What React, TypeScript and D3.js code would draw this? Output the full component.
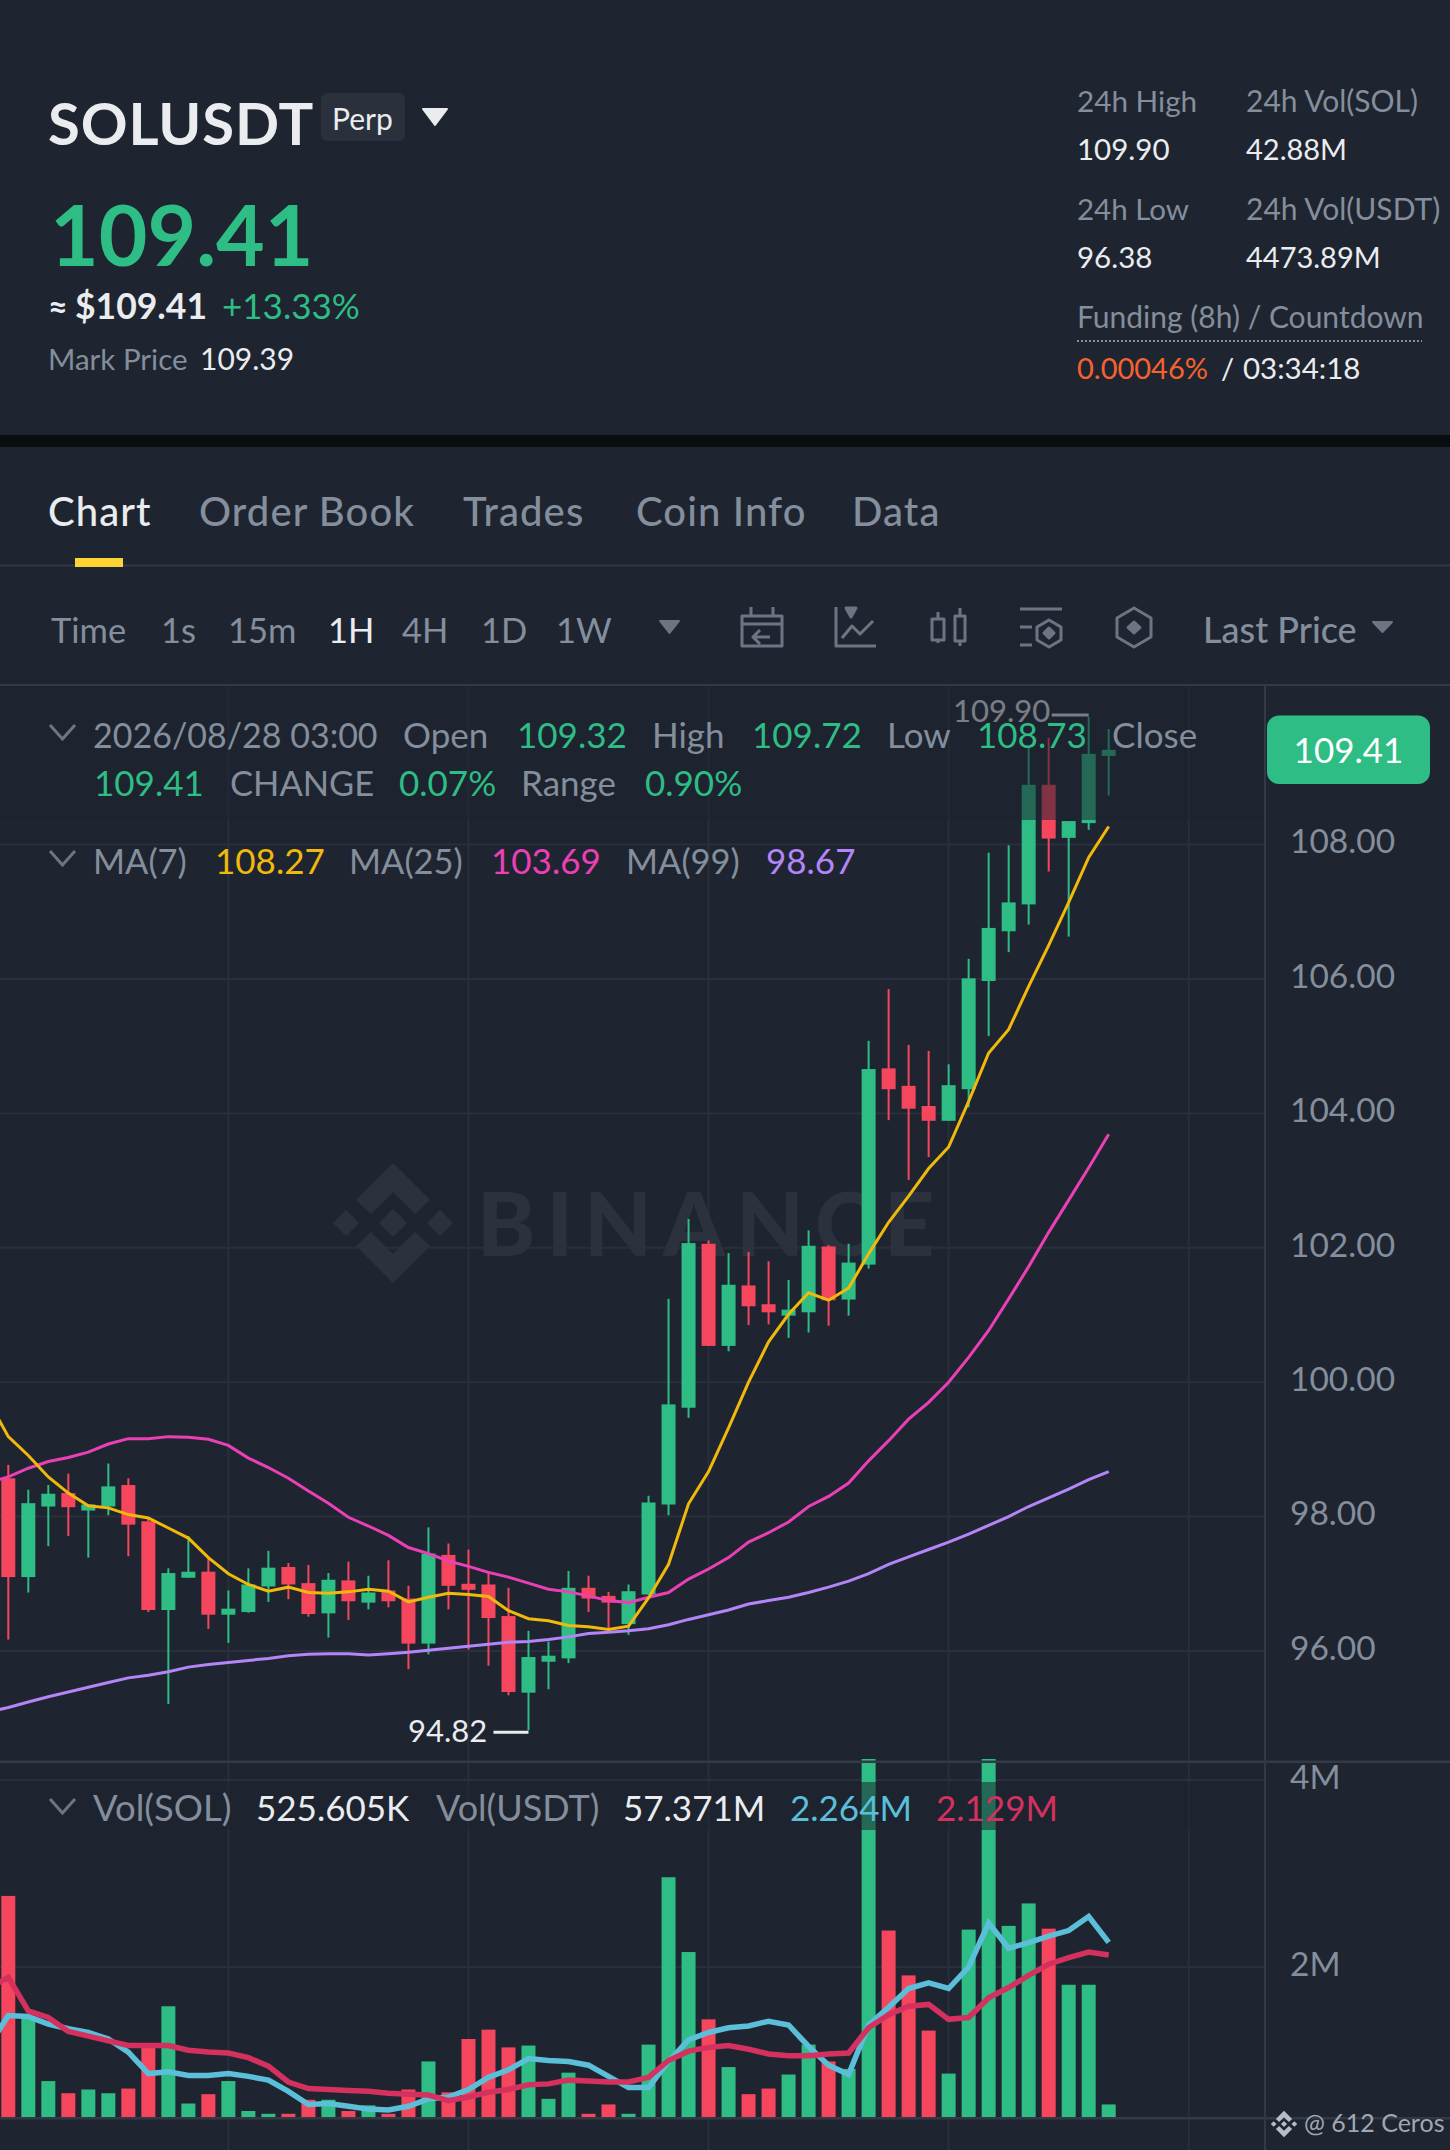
import React, { useRef, useEffect } from 'react';
import * as d3 from 'd3';

const WIDTH = 1450;
const HEIGHT = 2150;
const FONT = 'Lato, sans-serif';
const BG = '#1e2530';
const GREEN = '#2ebd85';
const RED = '#f6465d';
const GREY = '#848e9c';
const WHITE = '#eaecef';
const GRID = '#2a303b';
const RULE = '#333a46';
const ICON = '#6d7585';

// hourly candles, left to right
const opens = [
  98.57, 97.1, 98.15, 98.35, 98.09, 98.15, 98.47, 97.93, 96.61, 97.09, 97.18, 96.54, 96.58, 96.96,
  97.25, 97.01, 96.56, 97.05, 96.72, 96.9, 96.78, 96.11, 97.43, 97.0, 96.99, 96.52, 95.38, 95.84,
  95.89, 96.94, 96.82, 96.4, 96.84, 98.18, 99.62, 102.06, 100.54, 101.44, 101.16, 100.99, 101.04,
  102.02, 101.23, 101.75, 104.67, 104.41, 104.11, 103.89, 104.36, 105.97, 106.71, 107.11, 108.89,
  108.1, 108.32, 109.32,
];
const closes = [
  97.1, 98.2, 98.34, 98.14, 98.18, 98.45, 97.88, 96.61, 97.16, 97.18, 96.54, 96.63, 96.99, 97.24,
  96.99, 96.55, 97.06, 96.74, 96.87, 96.74, 96.11, 97.45, 96.97, 96.91, 96.49, 95.39, 95.91, 95.93,
  96.94, 96.78, 96.72, 96.89, 98.21, 99.67, 102.07, 100.54, 101.45, 101.13, 101.04, 101.08, 102.03,
  101.22, 101.78, 104.66, 104.36, 104.07, 103.89, 104.42, 106.01, 106.76, 107.14, 108.89, 108.09,
  108.35, 109.35, 109.41,
];
const highs = [
  98.77, 98.4, 98.47, 98.64, 98.18, 98.79, 98.57, 97.98, 97.23, 97.71, 97.38, 96.9, 97.23, 97.49,
  97.31, 97.28, 97.16, 97.33, 97.12, 97.35, 96.97, 97.84, 97.6, 97.51, 97.18, 96.94, 96.3, 96.14,
  97.19, 97.12, 96.88, 96.99, 98.31, 101.24, 102.43, 102.11, 101.92, 101.94, 101.8, 101.52, 102.26,
  102.04, 102.06, 105.08, 105.85, 105.02, 104.93, 104.73, 106.3, 107.88, 107.99, 109.45, 109.59,
  108.35, 109.9, 109.72,
];
const lows = [
  96.17, 96.87, 97.56, 97.71, 97.39, 98.02, 97.41, 96.58, 95.21, 97.09, 96.33, 96.12, 96.57, 96.73,
  96.77, 96.51, 96.2, 96.46, 96.62, 96.65, 95.73, 95.95, 96.62, 96.02, 95.78, 95.34, 94.82, 95.43,
  95.82, 96.58, 96.3, 96.24, 96.84, 98.02, 99.47, 100.54, 100.46, 100.85, 100.86, 100.66, 100.74,
  100.84, 100.99, 101.69, 103.9, 103.01, 103.35, 103.89, 104.09, 105.15, 106.4, 106.81, 107.6,
  106.63, 108.22, 108.73,
];

// volumes in millions of SOL
const volumes = [
  2.76, 1.45, 0.78, 0.65, 0.69, 0.65, 0.7, 1.15, 1.58, 0.54, 0.64, 0.78, 0.46, 0.43, 0.43, 0.58,
  0.58, 0.46, 0.52, 0.43, 0.69, 0.99, 0.66, 1.23, 1.33, 1.14, 1.16, 0.59, 0.87, 0.43, 0.53, 0.43,
  1.17, 2.96, 2.16, 1.44, 0.93, 0.64, 0.7, 0.85, 1.17, 0.99, 0.91, 4.6, 2.39, 1.91, 1.32, 0.86, 2.4,
  4.6, 2.44, 2.68, 2.41, 1.81, 1.81, 0.53,
];

// the average lines start one candle before the left edge
const ma7 = [
  99.73, 99.19, 98.91, 98.59, 98.35, 98.16, 98.13, 98.03, 97.98, 97.83, 97.68, 97.39, 97.15, 96.99,
  96.89, 96.95, 96.87, 96.86, 96.88, 96.92, 96.89, 96.73, 96.8, 96.86, 96.84, 96.81, 96.6, 96.48,
  96.45, 96.38, 96.36, 96.32, 96.37, 96.79, 97.29, 98.19, 98.67, 99.32, 100.0, 100.6, 101.01,
  101.33, 101.22, 101.4, 101.91, 102.38, 102.77, 103.18, 103.5, 104.18, 104.9, 105.25, 105.89,
  106.5, 107.14, 107.81, 108.27,
];
const ma25 = [
  98.51, 98.59, 98.72, 98.82, 98.88, 98.96, 99.08, 99.16, 99.16, 99.19, 99.18, 99.15, 99.06, 98.87,
  98.73, 98.57, 98.38, 98.2, 97.99, 97.86, 97.72, 97.54, 97.45, 97.34, 97.26, 97.17, 97.1, 97.01,
  96.92, 96.88, 96.82, 96.75, 96.72, 96.8, 96.87, 97.07, 97.22, 97.39, 97.62, 97.76, 97.92, 98.15,
  98.3, 98.5, 98.83, 99.13, 99.45, 99.7, 100.0, 100.37, 100.77, 101.24, 101.72, 102.23, 102.71,
  103.19, 103.69,
];
const ma99 = [
  95.09, 95.16, 95.24, 95.32, 95.39, 95.46, 95.53, 95.6, 95.64, 95.69, 95.76, 95.8, 95.83, 95.86,
  95.89, 95.93, 95.95, 95.96, 95.96, 95.94, 95.96, 95.98, 96.01, 96.04, 96.07, 96.1, 96.13, 96.14,
  96.17, 96.21, 96.26, 96.28, 96.3, 96.33, 96.39, 96.47, 96.54, 96.61, 96.7, 96.75, 96.8, 96.87,
  96.95, 97.04, 97.15, 97.29, 97.4, 97.51, 97.62, 97.74, 97.87, 98.0, 98.15, 98.28, 98.41, 98.55,
  98.67,
];
const volMa5 = [
  1.15, 1.48, 1.47, 1.39, 1.34, 1.3, 1.23, 1.09, 0.86, 0.88, 0.84, 0.84, 0.86, 0.83, 0.79, 0.67,
  0.53, 0.54, 0.51, 0.48, 0.47, 0.51, 0.59, 0.61, 0.69, 0.82, 0.9, 1.02, 1.0, 0.99, 0.95, 0.83,
  0.71, 0.71, 0.99, 1.22, 1.3, 1.35, 1.37, 1.42, 1.38, 1.15, 0.95, 0.85, 1.38, 1.57, 1.77, 1.83,
  1.77, 2.0, 2.47, 2.2, 2.26, 2.33, 2.39, 2.54, 2.264,
];
const volMa10 = [
  1.77, 1.89, 1.53, 1.46, 1.31, 1.26, 1.21, 1.16, 1.16, 1.16, 1.11, 1.09, 1.08, 1.03, 0.94, 0.77,
  0.7, 0.69, 0.68, 0.67, 0.65, 0.64, 0.63, 0.57, 0.61, 0.66, 0.69, 0.74, 0.75, 0.79, 0.78, 0.77,
  0.77, 0.82, 1.0, 1.1, 1.14, 1.16, 1.12, 1.07, 1.05, 1.05, 1.07, 1.08, 1.35, 1.49, 1.58, 1.6, 1.44,
  1.46, 1.67, 1.78, 1.91, 2.03, 2.1, 2.16, 2.129,
];

const priceTicks = [96, 98, 100, 102, 104, 106, 108];
const volumeTicks = [2, 4];
const timeTicks = [11, 23, 35, 47, 59];
const tabs = ['Chart', 'Order Book', 'Trades', 'Coin Info', 'Data'];
const tabX = [48, 199, 463, 636, 852];
const intervals = ['Time', '1s', '15m', '1H', '4H', '1D', '1W'];
const intervalX = [51, 161, 228, 328, 402, 481, 556];

type Piece = { x: number; y: number; t: string; c: string; size?: number; weight?: number };

const legendPieces: Piece[] = [
  { x: 93, y: 748, t: '2026/08/28 03:00', c: GREY, size: 34 },
  { x: 403, y: 748, t: 'Open', c: GREY },
  { x: 517, y: 748, t: '109.32', c: GREEN },
  { x: 652, y: 748, t: 'High', c: GREY },
  { x: 752, y: 748, t: '109.72', c: GREEN },
  { x: 887, y: 748, t: 'Low', c: GREY },
  { x: 977, y: 748, t: '108.73', c: GREEN },
  { x: 1112, y: 748, t: 'Close', c: GREY },
  { x: 94, y: 796, t: '109.41', c: GREEN },
  { x: 230, y: 796, t: 'CHANGE', c: GREY, size: 34.5 },
  { x: 399, y: 796, t: '0.07%', c: GREEN },
  { x: 521, y: 796, t: 'Range', c: GREY },
  { x: 645, y: 796, t: '0.90%', c: GREEN },
  { x: 93, y: 874, t: 'MA(7)', c: GREY, size: 34.5 },
  { x: 215, y: 874, t: '108.27', c: '#f0b90b' },
  { x: 349, y: 874, t: 'MA(25)', c: GREY, size: 34.5 },
  { x: 491, y: 874, t: '103.69', c: '#eb40b5' },
  { x: 626, y: 874, t: 'MA(99)', c: GREY, size: 34.5 },
  { x: 766, y: 874, t: '98.67', c: '#b385f8' },
  { x: 93, y: 1821, t: 'Vol(SOL)', c: GREY, size: 36.5 },
  { x: 256, y: 1821, t: '525.605K', c: WHITE },
  { x: 436, y: 1821, t: 'Vol(USDT)', c: GREY, size: 36 },
  { x: 623, y: 1821, t: '57.371M', c: WHITE },
  { x: 790, y: 1821, t: '2.264M', c: '#5bbfd9' },
  { x: 936, y: 1821, t: '2.129M', c: '#d5315f' },
];

const headerPieces: Piece[] = [
  { x: 332, y: 130, t: 'Perp', c: WHITE, size: 30, weight: 400 },
  { x: 50, y: 266, t: '109.41', c: GREEN, size: 84, weight: 700 },
  { x: 48, y: 319, t: '≈', c: WHITE, size: 34, weight: 700 },
  { x: 75, y: 319, t: '$109.41', c: WHITE, size: 35.5, weight: 700 },
  { x: 222, y: 319, t: '+13.33%', c: GREEN, size: 35, weight: 400 },
  { x: 48, y: 370, t: 'Mark Price', c: GREY, size: 29.5, weight: 400 },
  { x: 200, y: 370, t: '109.39', c: WHITE, size: 30, weight: 400 },
  { x: 1077, y: 112, t: '24h High', c: GREY, size: 29.7, weight: 400 },
  { x: 1246, y: 112, t: '24h Vol(SOL)', c: GREY, size: 30, weight: 400 },
  { x: 1077, y: 160, t: '109.90', c: WHITE, size: 29.5, weight: 400 },
  { x: 1246, y: 160, t: '42.88M', c: WHITE, size: 29, weight: 400 },
  { x: 1077, y: 220, t: '24h Low', c: GREY, size: 29.5, weight: 400 },
  { x: 1246, y: 220, t: '24h Vol(USDT)', c: GREY, size: 30, weight: 400 },
  { x: 1077, y: 268, t: '96.38', c: WHITE, size: 29.5, weight: 400 },
  { x: 1246, y: 268, t: '4473.89M', c: WHITE, size: 29, weight: 400 },
  { x: 1077, y: 328, t: 'Funding (8h) / Countdown', c: GREY, size: 30, weight: 400 },
  { x: 1077, y: 379, t: '0.00046%', c: '#f6622f', size: 29, weight: 400 },
  { x: 1221, y: 379, t: '/', c: WHITE, size: 29, weight: 400 },
  { x: 1243, y: 379, t: '03:34:18', c: WHITE, size: 29.5, weight: 400 },
  { x: 1203, y: 643, t: 'Last Price', c: GREY, size: 36, weight: 500 },
];

const App: React.FC = () => {
  const svgRef = useRef<SVGSVGElement | null>(null);

  useEffect(() => {
    const svg = d3.select(svgRef.current);
    svg.selectAll('*').remove();

    const candleX = d3.scaleLinear().domain([0, 55]).range([8.3, 1108.7]);
    const priceY = d3.scaleLinear().domain([96, 108]).range([1651, 844.6]);
    const volumeY = d3.scaleLinear().domain([0, 4]).range([2154, 1780]);
    const paneRight = 1265;
    const volumeBase = 2117;
    const bodyWidth = 14;

    svg.append('rect').attr('width', WIDTH).attr('height', HEIGHT).attr('fill', BG);
    svg.append('rect').attr('y', 435).attr('width', WIDTH).attr('height', 12).attr('fill', '#0a0d10');

    const addText = (sel: any, p: Piece) =>
      sel
        .append('text')
        .attr('x', p.x)
        .attr('y', p.y)
        .attr('fill', p.c)
        .attr('font-family', FONT)
        .attr('font-size', p.size ?? 35)
        .attr('font-weight', p.weight ?? 400)
        .text(p.t);

    const header = svg.append('g');
    header.append('rect').attr('x', 321).attr('y', 93).attr('width', 84).attr('height', 48).attr('rx', 6).attr('fill', '#2a303c');
    addText(header, { x: 48, y: 145, t: 'SOLUSDT', c: WHITE, size: 58, weight: 700 }).attr('letter-spacing', 0.9);
    headerPieces.forEach((p) => addText(header, p));
    const triangle = (x0: number, x1: number, y0: number, y1: number, fill: string) =>
      header
        .append('path')
        .attr('d', `M${x0},${y0}H${x1}L${(x0 + x1) / 2},${y1}Z`)
        .attr('fill', fill)
        .attr('stroke', fill)
        .attr('stroke-width', 2)
        .attr('stroke-linejoin', 'round');
    triangle(423, 447, 109, 125, WHITE);
    triangle(660, 679, 621, 633, ICON);
    triangle(1373, 1392, 622, 632, ICON);
    header
      .append('line')
      .attr('x1', 1077)
      .attr('x2', 1422)
      .attr('y1', 341)
      .attr('y2', 341)
      .attr('stroke', GREY)
      .attr('stroke-width', 2)
      .attr('stroke-dasharray', '2 2');

    // tabs and toolbar
    tabs.forEach((t, i) =>
      addText(header, { x: tabX[i], y: 526, t, c: i === 0 ? WHITE : GREY, size: 40, weight: 500 }).attr('letter-spacing', 1.1)
    );
    header.append('rect').attr('y', 564.5).attr('width', WIDTH).attr('height', 2).attr('fill', RULE);
    header.append('rect').attr('x', 75).attr('y', 558).attr('width', 48).attr('height', 9).attr('fill', '#fcd535');
    intervals.forEach((t, i) =>
      addText(header, { x: intervalX[i], y: 643, t, c: t === '1H' ? WHITE : GREY, size: 34.5, weight: 400 })
    );

    const icons = header
      .append('g')
      .attr('fill', 'none')
      .attr('stroke', ICON)
      .attr('stroke-width', 3)
      .attr('stroke-linejoin', 'round');
    icons.append('path').attr('d', 'M742,616H782V646H742ZM742,624H782M751,607V616M773,607V616M770,637H753M760,630L753,637L760,644');
    icons.append('path').attr('d', 'M836,607V646H876M842,638L852,626L860,634L873,621');
    icons.append('path').attr('d', 'M846,608H856L851,617Z').attr('fill', ICON);
    icons.append('path').attr('d', 'M932,619H944V640H932ZM938,612V619M938,640V643M955,616H965V641H955ZM960,608V616M960,641V646');
    icons.append('path').attr('d', 'M1020,609H1062M1020,627H1032M1020,645H1032M1049,620L1061,627V640L1049,647L1037,640V627Z');
    icons.append('path').attr('d', 'M1049,628L1054,633L1049,638L1044,633Z').attr('fill', ICON);
    icons.append('path').attr('d', 'M1134,608L1151,618V637L1134,647L1117,637V618Z');
    icons.append('path').attr('d', 'M1134,622L1140,627.5L1134,633L1128,627.5Z').attr('fill', ICON);

    // clip regions for the two panes
    const defs = svg.append('defs');
    defs.append('clipPath').attr('id', 'pricePane').append('rect').attr('x', 0).attr('y', 686).attr('width', paneRight).attr('height', 1075);
    defs.append('clipPath').attr('id', 'volumePane').append('rect').attr('x', 0).attr('y', 1759).attr('width', paneRight).attr('height', volumeBase - 1759);

    // grid
    const grid = svg.append('g').attr('stroke', GRID).attr('stroke-width', 2);
    priceTicks.forEach((p) => grid.append('line').attr('x1', 0).attr('x2', paneRight).attr('y1', priceY(p)).attr('y2', priceY(p)));
    volumeTicks.forEach((v) => grid.append('line').attr('x1', 0).attr('x2', paneRight).attr('y1', volumeY(v)).attr('y2', volumeY(v)));
    timeTicks.forEach((i) => grid.append('line').attr('x1', candleX(i)).attr('x2', candleX(i)).attr('y1', 686).attr('y2', HEIGHT));

    // watermark
    const mark = (g: any, cx: number, cy: number, k: number, fill: string) => {
      const m = g.append('g').attr('transform', `translate(${cx},${cy}) scale(${k})`).attr('fill', fill);
      m.append('path').attr('d', 'M0,-60L37,-23L22,-9L0,-31L-22,-9L-37,-23Z');
      m.append('path').attr('d', 'M0,60L37,23L22,9L0,31L-22,9L-37,23Z');
      m.append('path').attr('d', 'M0,-14L14,0L0,14L-14,0Z');
      m.append('path').attr('d', 'M-47,-13L-34,0L-47,13L-60,0Z');
      m.append('path').attr('d', 'M47,-13L60,0L47,13L34,0Z');
    };
    mark(svg, 393, 1223, 1, '#2b313d');
    svg
      .append('text')
      .attr('x', 477)
      .attr('y', 1256)
      .attr('fill', '#2b313d')
      .attr('font-family', FONT)
      .attr('font-size', 88)
      .attr('font-weight', 900)
      .attr('letter-spacing', 11)
      .text('BINANCE');

    // candles
    const candles = svg.append('g').attr('clip-path', 'url(#pricePane)');
    opens.forEach((open, i) => {
      const close = closes[i];
      const color = close >= open ? GREEN : RED;
      candles
        .append('line')
        .attr('x1', candleX(i))
        .attr('x2', candleX(i))
        .attr('y1', priceY(highs[i]))
        .attr('y2', priceY(lows[i]))
        .attr('stroke', color)
        .attr('stroke-width', 2);
      candles
        .append('rect')
        .attr('x', candleX(i) - bodyWidth / 2)
        .attr('y', priceY(Math.max(open, close)))
        .attr('width', bodyWidth)
        .attr('height', Math.max(2, Math.abs(priceY(open) - priceY(close))))
        .attr('fill', color);
    });

    const priceLine = d3.line<number>().x((_, i) => candleX(i - 1)).y((d) => priceY(d));
    [
      { values: ma99, color: '#b385f8' },
      { values: ma25, color: '#eb40b5' },
      { values: ma7, color: '#f0b90b' },
    ].forEach((s) =>
      candles
        .append('path')
        .attr('d', priceLine(s.values))
        .attr('fill', 'none')
        .attr('stroke', s.color)
        .attr('stroke-width', 3)
    );

    // extreme labels
    const maxIdx = d3.maxIndex(highs);
    const minIdx = d3.minIndex(lows);
    candles.append('line').attr('x1', candleX(maxIdx) - 37).attr('x2', candleX(maxIdx)).attr('y1', priceY(highs[maxIdx]) - 2).attr('y2', priceY(highs[maxIdx]) - 2).attr('stroke', WHITE).attr('stroke-width', 3);
    addText(candles, { x: 953, y: 722, t: d3.format('.2f')(highs[maxIdx]), c: WHITE, size: 31 });
    candles.append('line').attr('x1', candleX(minIdx) - 35).attr('x2', candleX(minIdx)).attr('y1', priceY(lows[minIdx]) + 2).attr('y2', priceY(lows[minIdx]) + 2).attr('stroke', WHITE).attr('stroke-width', 3);
    addText(candles, { x: 408, y: 1742, t: d3.format('.2f')(lows[minIdx]), c: WHITE, size: 31 });

    // volume
    const volume = svg.append('g').attr('clip-path', 'url(#volumePane)');
    volumes.forEach((v, i) => {
      volume
        .append('rect')
        .attr('x', candleX(i) - bodyWidth / 2)
        .attr('y', volumeY(v))
        .attr('width', bodyWidth)
        .attr('height', Math.max(0, volumeBase - volumeY(v)))
        .attr('fill', closes[i] >= opens[i] ? GREEN : RED);
    });
    const volumeLine = d3.line<number>().x((_, i) => candleX(i - 1)).y((d) => volumeY(d));
    [
      { values: volMa5, color: '#5bbfd9' },
      { values: volMa10, color: '#d5315f' },
    ].forEach((s) =>
      volume
        .append('path')
        .attr('d', volumeLine(s.values))
        .attr('fill', 'none')
        .attr('stroke', s.color)
        .attr('stroke-width', 5.5)
    );

    // translucent legend backing that dims whatever runs under it
    svg.append('rect').attr('y', 686).attr('width', paneRight).attr('height', 134).attr('fill', BG).attr('opacity', 0.55);
    svg.append('rect').attr('y', 1782).attr('width', paneRight).attr('height', 48).attr('fill', BG).attr('opacity', 0.55);

    // frame rules
    const rules = svg.append('g').attr('fill', RULE);
    rules.append('rect').attr('y', 684).attr('width', WIDTH).attr('height', 2);
    rules.append('rect').attr('y', 1760.5).attr('width', WIDTH).attr('height', 2.5);
    rules.append('rect').attr('y', 2117).attr('width', WIDTH).attr('height', 2.5);
    rules.append('rect').attr('x', paneRight - 1).attr('y', 686).attr('width', 2).attr('height', HEIGHT - 686);

    // axes
    const styleAxis = (g: any) => {
      g.select('.domain').remove();
      g.selectAll('text')
        .attr('fill', GREY)
        .attr('font-family', FONT)
        .attr('font-size', 33.5)
        .attr('text-anchor', 'start')
        .attr('dy', '.25em');
    };
    svg
      .append('g')
      .attr('transform', 'translate(1290,0)')
      .call(d3.axisRight(priceY).tickValues(priceTicks).tickSize(0).tickPadding(0).tickFormat((d) => d3.format('.2f')(d as number)))
      .call(styleAxis);
    svg
      .append('g')
      .attr('transform', 'translate(1290,0)')
      .call(d3.axisRight(volumeY).tickValues(volumeTicks).tickSize(0).tickPadding(0).tickFormat((d) => `${d}M`))
      .call(styleAxis);

    // legend
    const legend = svg.append('g');
    legendPieces.forEach((p) => addText(legend, p));
    [[725, 739], [851, 865], [1799, 1813]].forEach(([y0, y1]) =>
      legend
        .append('path')
        .attr('d', `M50,${y0}L62.5,${y1}L75,${y0}`)
        .attr('fill', 'none')
        .attr('stroke', ICON)
        .attr('stroke-width', 3)
    );

    // last price badge
    svg.append('rect').attr('x', 1267).attr('y', 715.5).attr('width', 163).attr('height', 68.5).attr('rx', 12).attr('fill', GREEN);
    svg
      .append('text')
      .attr('x', 1348.5)
      .attr('y', 763)
      .attr('text-anchor', 'middle')
      .attr('fill', '#ffffff')
      .attr('font-family', FONT)
      .attr('font-size', 35)
      .text('109.41');

    // bottom right stamp
    mark(svg, 1284, 2124, 0.22, '#b7bdc6');
    svg
      .append('text')
      .attr('x', 1304)
      .attr('y', 2132)
      .attr('fill', '#a0a7b3')
      .attr('font-family', FONT)
      .attr('font-size', 25)
      .text('@ 612 Ceros');
  }, []);

  return <svg ref={svgRef} width={WIDTH} height={HEIGHT} style={{ position: 'absolute', left: 0, top: 0, display: 'block' }} />;
};

export default App;
